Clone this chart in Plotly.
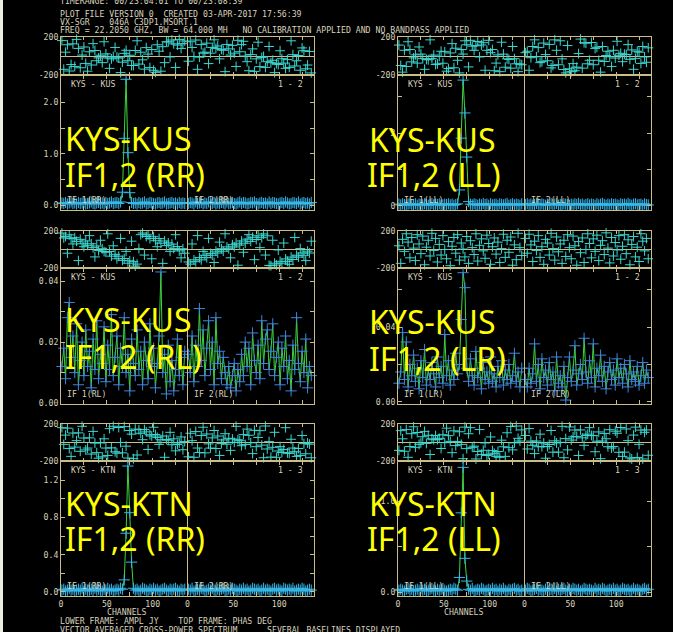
import numpy as np
import plotly.graph_objects as go

W, H = 673, 632

# ---------------------------------------------------------------- data
# Phases (deg) and amplitudes (Jy), every second channel, IF1 and IF2.
PH_KUS_RR_IF1 = [162, -140, 40, 118, -158, -90, 128, -110, 175, 80, -124, 10, 95, -78, -160, 44, -95, 130, 58, -50,
                 -20, 8, -70, 150, 22, -20, -130, -30, -5, 90, -12, -22, -175, -65, 28, 60, -50, 8, -100, -100,
                 58, 160, -85, 40, -40, -138, 88, 20, -122, 68, -150, -172, 118, 50, -160, 98, -70, 150, 148, -10,
                 168, 128, -120, 115, 175, 80, 130, 158]
PH_KUS_RR_IF2 = [-55, 150, 90, -5, 168, -140, -12, 120, 30, 40, 135, -80, 30, 90, 170, 80, 105, -30, 70, 60,
                 -165, 122, 75, 10, 112, 30, -110, 165, 45, 120, 155, 0, -60, -155, 15, 75, -162, -30, 145, -112,
                 -15, -5, -120, -60, 100, -70, -45, -175, -80, -90, 55, -28, -75, -130, -38, -120, 160, 14, -105, -50,
                 5, -150, 85, 56, -135, -95, 48, -178]
PH_KUS_LL_IF1 = [115, -100, -170, 60, -110, 150, 68, -62, -20, 12, -75, 95, 20, -28, -140, -36, -40, 170, -28, 10,
                 -90, -84, -4, 50, -76, 45, -160, -132, 32, 130, -124, 82, -45, -178, 68, 20, 160, 118, -115, 165,
                 104, 60, 108, 152, -10, 116, 140, -150, 60, 165, 35, 68, -155, -75, 12, -165, 145, 20, -118, -30,
                 -36, -128, 100, -28, -82, -165, -84, -92]
PH_KUS_LL_IF2 = [35, 50, -150, -18, 100, 170, -8, 88, -70, -60, 136, 15, -50, 122, -125, -100, 170, 60, -92, 160,
                 -30, -142, -178, 110, -135, -165, -80, -155, -118, 25, 178, -128, 140, 135, -82, -45, 142, -92, 80, 92,
                 -45, -170, 100, -58, 5, 50, -8, -110, 60, -22, 155, 8, 28, -60, 18, 15, 120, -35, 64, -140,
                 -25, 50, 40, -78, 100, -10, -66, 86]
PH_KUS_RL_IF1 = [178, 125, 140, -40, 158, 118, 60, 128, 88, -120, 110, 62, 30, 92, 45, 150, 62, 20, -80, 38,
                 -12, 100, 8, -22, -30, 170, -22, -72, 40, -52, -100, -72, 120, -118, -98, -20, -148, -122, 90, -132,
                 -180, -158, 10, 160, 178, -60, 140, 158, 118, -100, 138, 95, 30, 118, 68, -150, 92, 42, 72, -20,
                 58, 12, 160, 32, -15, -90, 8, -40]
PH_KUS_RL_IF2 = [-135, -158, 60, -112, -132, 150, -88, -112, -20, -62, -88, 120, -42, -62, -140, -18, -38, 80, 8, -18,
                 170, 28, 8, -90, 52, 28, 68, -170, 48, 92, -30, 68, 112, 160, 88, 132, -110, 108, 148, 20,
                 128, 168, -60, 148, -172, -175, 100, -148, -168, -5, -128, -148, 70, -102, -128, -160, -82, -108, 130, -62,
                 -82, 10, -38, -62, -120, -18, -38, 90]
PH_KUS_LR_IF1 = [40, -150, 110, -20, 170, 80, -90, 130, 15, -120, 160, 60, -45, 145, -165, 25, 100, -70, 175, -10,
                 120, -135, 55, -60, 150, 0, -100, 85, -175, 35, 130, -40, 160, -115, 70, 5, -80, 140, -150, 95,
                 20, -55, 170, -125, 45, 115, -15, -95, 155, 65, -160, 30, 125, -50, 80, -140, 10, 165, -85, 100,
                 -30, 135, -170, 50, -110, 175, 20, -65]
PH_KUS_LR_IF2 = [120, -40, 165, 50, -130, 90, -10, 150, -85, 30, -160, 110, 70, -60, 175, 10, -115, 135, -25, 60,
                 -150, 100, -75, 160, 20, -100, 145, 40, -170, 85, -35, 125, -140, 0, 170, 65, -90, 115, -20, 155,
                 -120, 45, 95, -55, 180, 15, -145, 130, -70, 75, -5, 150, -105, 35, 160, -45, 105, -165, 55, 140,
                 -80, 25, -130, 170, 90, -15, 120, -100]
PH_KTN_RR_IF1 = [160, -20, 80, 155, -65, -150, 102, -50, 20, 104, -95, 175, 48, -80, -60, 50, -125, 120, -6, -110,
                 -170, -4, -155, 40, -60, -140, 150, -58, 175, -100, -115, 162, 0, -112, 172, -40, -168, 130, 90, -175,
                 145, -135, 138, 100, 30, 140, 115, -75, 84, 70, 165, 86, 55, -20, 30, 70, -160, 32, 25, 110,
                 -24, 40, -90, -22, -5, 60, -78, 10]
PH_KTN_RR_IF2 = [-155, 100, 20, -160, 118, -60, -108, 75, 165, -112, 92, -15, -60, 50, 130, -65, 70, -140, -12, 28,
                 95, -18, 45, -85, 38, 2, 175, 30, 20, -35, 85, -22, 145, 78, -3, -120, 132, -45, 55, 128,
                 -28, -165, 178, -70, 10, -158, -52, 110, -160, -92, -45, -108, -75, 160, -112, -118, 35, -60, -100, -150,
                 -65, -140, 75, -12, -122, -5, -18, -165]
PH_KTN_LL_IF1 = [-85, 128, 40, -95, 140, -160, -44, 95, 170, -52, 108, -20, -2, 62, 120, -10, 78, -130, 40, 30,
                 75, 32, 45, -65, 84, -2, 155, 74, 12, -110, 126, -34, 10, 116, -20, -175, 166, -66, 95, 160,
                 -52, -40, -178, -98, 140, -130, -84, -5, -140, -128, 60, -88, -116, -150, -98, -160, 25, -46, -150, 105,
                 -56, 172, -80, -4, 178, 45, 16, 136]
PH_KTN_LL_IF2 = [75, -70, 150, 15, -30, -120, 16, -46, 90, -45, -6, -170, -44, -22, 130, -105, 18, -5, -104, 2,
                 175, -165, 42, -80, 168, 26, 60, 135, 66, -140, 136, 50, -30, 75, 90, 160, 76, 74, -100, 14,
                 114, -175, 16, 98, 40, -46, 138, -60, -44, 122, 100, -106, 162, -150, -104, 146, 20, -166, -178, 80,
                 166, -162, -20, 134, -178, 110, 136, -138]

AMP_KUS_RR_IF1 = [0.04, 0.03, 0.05, 0.02, 0.04, 0.06, 0.03, 0.04, 0.02, 0.05, 0.03, 0.04, 0.05, 0.02, 0.03, 0.04,
                  0.06, 0.03, 0.02, 0.04, 0.05, 0.03, 0.04, 0.02, 0.05, 0.03, 0.04, 0.06, 0.03, 0.04, 0.05, 0.03,
                  0.06, 0.25, 1.30, 2.45, 1.02, 0.24, 0.05, 0.03, 0.04, 0.02, 0.05, 0.03, 0.04, 0.06, 0.02, 0.03,
                  0.05, 0.04, 0.03, 0.02, 0.04, 0.05, 0.03, 0.04, 0.06, 0.02, 0.03, 0.04, 0.05, 0.03, 0.04, 0.02,
                  0.05, 0.03, 0.04, 0.03]
AMP_KUS_RR_IF2 = [0.03, 0.05, 0.04, 0.02, 0.06, 0.03, 0.04, 0.05, 0.02, 0.04, 0.03, 0.06, 0.04, 0.03, 0.05, 0.02,
                  0.04, 0.03, 0.05, 0.04, 0.02, 0.06, 0.03, 0.04, 0.05, 0.03, 0.02, 0.04, 0.06, 0.03, 0.05, 0.04,
                  0.02, 0.03, 0.05, 0.04, 0.06, 0.03, 0.02, 0.04, 0.05, 0.03, 0.04, 0.02, 0.06, 0.03, 0.05, 0.04,
                  0.03, 0.02, 0.04, 0.05, 0.03, 0.06, 0.04, 0.02, 0.03, 0.05, 0.04, 0.03, 0.06, 0.02, 0.04, 0.05,
                  0.03, 0.04, 0.02, 0.05]
AMP_KUS_LL_IF1 = [0.05, 0.03, 0.06, 0.04, 0.02, 0.05, 0.07, 0.03, 0.04, 0.06, 0.02, 0.05, 0.04, 0.03, 0.06, 0.05,
                  0.02, 0.04, 0.07, 0.03, 0.05, 0.04, 0.06, 0.02, 0.03, 0.05, 0.04, 0.06, 0.03, 0.05, 0.02, 0.04,
                  0.06, 0.44, 1.86, 3.45, 2.55, 1.34, 0.12, 0.05, 0.03, 0.06, 0.04, 0.02, 0.05, 0.03, 0.07, 0.04,
                  0.05, 0.02, 0.06, 0.03, 0.04, 0.05, 0.02, 0.06, 0.04, 0.03, 0.05, 0.07, 0.02, 0.04, 0.06, 0.03,
                  0.05, 0.04, 0.02, 0.06]
AMP_KUS_LL_IF2 = [0.04, 0.06, 0.03, 0.05, 0.02, 0.04, 0.07, 0.05, 0.03, 0.06, 0.04, 0.02, 0.05, 0.03, 0.06, 0.04,
                  0.05, 0.07, 0.02, 0.04, 0.03, 0.06, 0.05, 0.04, 0.02, 0.05, 0.03, 0.06, 0.04, 0.07, 0.03, 0.05,
                  0.02, 0.04, 0.06, 0.03, 0.05, 0.04, 0.02, 0.06, 0.03, 0.05, 0.07, 0.04, 0.02, 0.05, 0.03, 0.06,
                  0.04, 0.05, 0.03, 0.02, 0.06, 0.04, 0.05, 0.03, 0.07, 0.04, 0.02, 0.05, 0.06, 0.03, 0.04, 0.05,
                  0.02, 0.06, 0.04, 0.03]
AMP_KUS_RL_IF1 = [0.012, 0.018, 0.008, 0.028, 0.033, 0.015, 0.022, 0.010, 0.026, 0.006,
                  0.014, 0.020, 0.009, 0.024, 0.012, 0.017, 0.005, 0.021, 0.011, 0.027,
                  0.008, 0.016, 0.013, 0.025, 0.007, 0.019, 0.011, 0.029, 0.009, 0.015,
                  0.022, 0.006, 0.018, 0.012, 0.028, 0.010, 0.016, 0.004, 0.021, 0.013,
                  0.009, 0.024, 0.011, 0.017, 0.006, 0.020, 0.014, 0.008, 0.026, 0.012,
                  0.018, 0.005, 0.013, 0.022, 0.043, 0.010, 0.016, 0.003, 0.019, 0.007,
                  0.014, 0.004, 0.011, 0.021, 0.009, 0.015, 0.006, 0.017]
AMP_KUS_RL_IF2 = [0.016, 0.010, 0.022, 0.007, 0.019, 0.012, 0.031, 0.014, 0.024, 0.009,
                  0.018, 0.027, 0.011, 0.020, 0.006, 0.028, 0.013, 0.017, 0.008, 0.015,
                  0.010, 0.006, 0.012, 0.005, 0.009, 0.013, 0.004, 0.011, 0.007, 0.016,
                  0.009, 0.020, 0.012, 0.018, 0.006, 0.023, 0.014, 0.010, 0.019, 0.008,
                  0.027, 0.013, 0.021, 0.024, 0.011, 0.017, 0.026, 0.009, 0.015, 0.020,
                  0.006, 0.018, 0.012, 0.022, 0.008, 0.014, 0.004, 0.019, 0.011, 0.028,
                  0.013, 0.007, 0.017, 0.010, 0.021, 0.005, 0.012, 0.009]
AMP_KUS_LR_IF1 = [0.010, 0.016, 0.037, 0.012, 0.032, 0.008, 0.020, 0.014, 0.025, 0.011,
                  0.018, 0.007, 0.022, 0.013, 0.028, 0.009, 0.017, 0.012, 0.021, 0.015,
                  0.008, 0.024, 0.013, 0.019, 0.010, 0.036, 0.014, 0.022, 0.009, 0.017,
                  0.012, 0.026, 0.015, 0.020, 0.044, 0.069, 0.061, 0.018, 0.011, 0.023,
                  0.014, 0.009, 0.027, 0.013, 0.018, 0.007, 0.021, 0.012, 0.016, 0.010,
                  0.024, 0.011, 0.015, 0.008, 0.019, 0.013, 0.022, 0.009, 0.017, 0.012,
                  0.020, 0.010, 0.014, 0.026, 0.011, 0.016, 0.008, 0.018]
AMP_KUS_LR_IF2 = [0.012, 0.008, 0.018, 0.010, 0.015, 0.031, 0.011, 0.020, 0.007, 0.023,
                  0.013, 0.017, 0.009, 0.021, 0.012, 0.016, 0.006, 0.024, 0.010, 0.014,
                  0.008, 0.019, 0.001, 0.013, 0.024, 0.011, 0.017, 0.030, 0.009, 0.015,
                  0.020, 0.012, 0.034, 0.016, 0.010, 0.022, 0.013, 0.031, 0.008, 0.018,
                  0.014, 0.025, 0.011, 0.019, 0.007, 0.016, 0.021, 0.012, 0.017, 0.009,
                  0.023, 0.013, 0.018, 0.010, 0.020, 0.015, 0.008, 0.022, 0.012, 0.016,
                  0.011, 0.019, 0.009, 0.014, 0.021, 0.010, 0.017, 0.013]
AMP_KTN_RR_IF1 = [0.02, 0.03, 0.01, 0.02, 0.04, 0.02, 0.03, 0.01, 0.02, 0.03, 0.02, 0.04, 0.01, 0.03, 0.02, 0.02,
                  0.03, 0.01, 0.04, 0.02, 0.03, 0.02, 0.01, 0.03, 0.02, 0.04, 0.02, 0.03, 0.01, 0.02, 0.03, 0.02,
                  0.04, 0.03, 0.13, 0.63, 1.35, 0.85, 0.32, 0.04, 0.02, 0.03, 0.01, 0.02, 0.04, 0.03, 0.02, 0.01,
                  0.03, 0.02, 0.04, 0.02, 0.03, 0.01, 0.02, 0.03, 0.04, 0.02, 0.01, 0.03, 0.02, 0.03, 0.04, 0.02,
                  0.01, 0.03, 0.02, 0.03]
AMP_KTN_RR_IF2 = [0.03, 0.02, 0.04, 0.01, 0.02, 0.03, 0.02, 0.04, 0.03, 0.01, 0.02, 0.03, 0.02, 0.04, 0.02, 0.01,
                  0.03, 0.02, 0.03, 0.04, 0.01, 0.02, 0.03, 0.02, 0.04, 0.03, 0.02, 0.01, 0.03, 0.02, 0.04, 0.02,
                  0.03, 0.01, 0.02, 0.04, 0.03, 0.02, 0.03, 0.01, 0.02, 0.04, 0.02, 0.03, 0.02, 0.01, 0.03, 0.04,
                  0.02, 0.03, 0.02, 0.01, 0.04, 0.03, 0.02, 0.03, 0.02, 0.04, 0.01, 0.02, 0.03, 0.02, 0.04, 0.03,
                  0.01, 0.02, 0.03, 0.02]
AMP_KTN_LL_IF1 = [0.02, 0.03, 0.02, 0.01, 0.03, 0.04, 0.02, 0.03, 0.01, 0.02, 0.03, 0.02, 0.04, 0.02, 0.03, 0.01,
                  0.02, 0.03, 0.04, 0.02, 0.01, 0.03, 0.02, 0.03, 0.04, 0.02, 0.01, 0.02, 0.03, 0.02, 0.04, 0.03,
                  0.02, 0.16, 0.87, 1.37, 0.37, 0.12, 0.03, 0.02, 0.04, 0.01, 0.02, 0.03, 0.02, 0.04, 0.03, 0.01,
                  0.02, 0.03, 0.02, 0.04, 0.02, 0.03, 0.01, 0.03, 0.02, 0.04, 0.02, 0.01, 0.03, 0.02, 0.03, 0.04,
                  0.02, 0.03, 0.01, 0.02]
AMP_KTN_LL_IF2 = [0.02, 0.04, 0.03, 0.01, 0.02, 0.03, 0.04, 0.02, 0.03, 0.02, 0.01, 0.03, 0.04, 0.02, 0.03, 0.02,
                  0.04, 0.01, 0.03, 0.02, 0.03, 0.04, 0.02, 0.01, 0.03, 0.02, 0.04, 0.03, 0.02, 0.03, 0.01, 0.02,
                  0.04, 0.03, 0.02, 0.03, 0.02, 0.01, 0.04, 0.02, 0.03, 0.02, 0.04, 0.03, 0.01, 0.02, 0.03, 0.02,
                  0.04, 0.02, 0.03, 0.01, 0.02, 0.04, 0.03, 0.02, 0.03, 0.01, 0.02, 0.04, 0.02, 0.03, 0.02, 0.01,
                  0.03, 0.04, 0.02, 0.03]

HEADER = ["TIMERANGE: 00/23:04:01 TO 00/23:08:39",
          "PLOT FILE VERSION 0  CREATED 03-APR-2017 17:56:39",
          "VX-SGR    046A C3DP1.MSORT.1",
          "FREQ = 22.2050 GHZ, BW = 64.000 MH   NO CALIBRATION APPLIED AND NO BANDPASS APPLIED"]
FOOTER = ["LOWER FRAME: AMPL JY    TOP FRAME: PHAS DEG",
          "VECTOR AVERAGED CROSS-POWER SPECTRUM      SEVERAL BASELINES DISPLAYED"]

PANELS = [
    dict(base="KYS - KUS", pair="1 - 2", pol="RR", big=("KYS-KUS", "IF1,2 (RR)"),
         ph=(PH_KUS_RR_IF1, PH_KUS_RR_IF2), amp=(AMP_KUS_RR_IF1, AMP_KUS_RR_IF2),
         yr=[-0.097, 2.534], tv=[0, 0.5, 1, 1.5, 2], tt=["0.0", "", "1.0", "", "2.0"]),
    dict(base="KYS - KUS", pair="1 - 2", pol="LL", big=("KYS-KUS", "IF1,2 (LL)"),
         ph=(PH_KUS_LL_IF1, PH_KUS_LL_IF2), amp=(AMP_KUS_LL_IF1, AMP_KUS_LL_IF2),
         yr=[-0.11, 3.59], tv=[0, 1, 2, 3], tt=["0", "", "2", ""]),
    dict(base="KYS - KUS", pair="1 - 2", pol="RL", big=("KYS-KUS", "IF1,2 (RL)"),
         ph=(PH_KUS_RL_IF1, PH_KUS_RL_IF2), amp=(AMP_KUS_RL_IF1, AMP_KUS_RL_IF2),
         yr=[-0.0003, 0.0443], tv=[0, 0.01, 0.02, 0.03, 0.04], tt=["0.00", "", "0.02", "", "0.04"]),
    dict(base="KYS - KUS", pair="1 - 2", pol="LR", big=("KYS-KUS", "IF1,2 (LR)"),
         ph=(PH_KUS_LR_IF1, PH_KUS_LR_IF2), amp=(AMP_KUS_LR_IF1, AMP_KUS_LR_IF2),
         yr=[-0.0011, 0.0715], tv=[0, 0.02, 0.04, 0.06], tt=["0.00", "", "0.04", ""]),
    dict(base="KYS - KTN", pair="1 - 3", pol="RR", big=("KYS-KTN", "IF1,2 (RR)"),
         ph=(PH_KTN_RR_IF1, PH_KTN_RR_IF2), amp=(AMP_KTN_RR_IF1, AMP_KTN_RR_IF2),
         yr=[-0.043, 1.404], tv=[0, 0.2, 0.4, 0.6, 0.8, 1.0, 1.2],
         tt=["0.0", "", "0.4", "", "0.8", "", "1.2"]),
    dict(base="KYS - KTN", pair="1 - 3", pol="LL", big=("KYS-KTN", "IF1,2 (LL)"),
         ph=(PH_KTN_LL_IF1, PH_KTN_LL_IF2), amp=(AMP_KTN_LL_IF1, AMP_KTN_LL_IF2),
         yr=[-0.044, 1.44], tv=[0, 0.5, 1.0], tt=["0.0", "", "1.0"]),
]

# ---------------------------------------------------------------- style
BG = "#000000"
FRAME = "#c9bd8a"
TXT = "#d8d2bc"
PHASE_C = "#3cd8d0"
AMP_BASE_C = "#38b8ea"
AMP_NOISE_C = "#3f86e0"
GREEN = "#3ed43e"
YELLOW = "#ffff00"
MONO = "DejaVu Sans Mono"
SANS = "Noto Sans"
FS = 8.2

IF_SPAN = 138          # channel width of one IF on the shared axis
NCHAN = 136
COLS = [(61, 314), (398, 651)]
ROWS = [(37, 75, 210), (231, 268, 404), (424, 461, 596)]   # phase top, split, amp bottom
BIG_POS = [((68, 127), (68, 163)), ((372, 128), (370, 164)),
           ((68, 308), (68, 345)), ((372, 310), (372, 347)),
           ((68, 492), (68, 527)), ((372, 492), (370, 527))]


def px(x):
    return x / W


def py(y):
    return 1 - y / H


def chans(n):
    return (np.arange(n) + 0.5) * NCHAN / n


fig = go.Figure()
layout = dict(width=W, height=H, margin=dict(l=0, r=0, t=0, b=0, autoexpand=False),
              paper_bgcolor=BG, plot_bgcolor=BG, showlegend=False)
annotations, shapes = [], []


def text(x, y, s, size=FS, color=TXT, family=MONO, xanchor="left"):
    annotations.append(dict(x=px(x), y=py(y), xref="paper", yref="paper", text=s, showarrow=False,
                            xanchor=xanchor, yanchor="middle", borderpad=0, borderwidth=0,
                            font=dict(family=family, size=size, color=color)))


x_minor = [0, 25, 50, 75, 100, 125]
x_tv = x_minor + [IF_SPAN + v for v in x_minor]
x_lab = ["0", "", "50", "", "100", ""] * 2

for k, p in enumerate(PANELS):
    col, row = k % 2, k // 2
    x0, x1 = COLS[col]
    pt, pm, pb = ROWS[row]
    ip, ia = 2 * k + 1, 2 * k + 2
    bottom = row == 2

    axis_common = dict(showline=True, linecolor=FRAME, linewidth=1, mirror="ticks", showgrid=False,
                       ticks="inside", ticklen=4, tickcolor=FRAME, tickwidth=1,
                       tickfont=dict(family=MONO, size=FS, color=TXT), fixedrange=True)
    layout[f"xaxis{ip}"] = dict(axis_common, domain=[px(x0), px(x1)], range=[0, 2 * IF_SPAN],
                                anchor=f"y{ip}", tickmode="array", tickvals=x_tv,
                                ticktext=[""] * len(x_tv), zeroline=False, ticklen=3)
    layout[f"yaxis{ip}"] = dict(axis_common, domain=[py(pm), py(pt)], range=[-200, 200],
                                anchor=f"x{ip}", tickmode="array", tickvals=[-200, 200],
                                ticktext=["-200", "200"], ticks="", zeroline=True,
                                zerolinecolor=FRAME, zerolinewidth=1)
    layout[f"xaxis{ia}"] = dict(axis_common, domain=[px(x0), px(x1)], range=[0, 2 * IF_SPAN],
                                anchor=f"y{ia}", tickmode="array", tickvals=x_tv,
                                ticktext=x_lab if bottom else [""] * len(x_tv), zeroline=False)
    layout[f"yaxis{ia}"] = dict(axis_common, domain=[py(pb), py(pm)], range=p["yr"],
                                anchor=f"x{ia}", tickmode="array", tickvals=p["tv"],
                                ticktext=p["tt"], zeroline=False)

    # divider between the two IFs
    shapes.append(dict(type="line", xref=f"x{ia}", yref="paper", x0=IF_SPAN, x1=IF_SPAN,
                       y0=py(pb), y1=py(pt), line=dict(color=FRAME, width=1)))

    # phase crosses
    phx, phy = [], []
    for j, arr in enumerate(p["ph"]):
        phx += list(chans(len(arr)) + j * IF_SPAN)
        phy += list(arr)
    fig.add_trace(go.Scatter(x=phx, y=phy, mode="markers", xaxis=f"x{ip}", yaxis=f"y{ip}",
                             cliponaxis=False, hoverinfo="skip",
                             marker=dict(symbol="cross-thin", size=7,
                                         line=dict(color=PHASE_C, width=1))))

    # amplitude spectra
    cross_c = AMP_NOISE_C if p["pol"] in ("RL", "LR") else AMP_BASE_C
    amx, amy = [], []
    for j, arr in enumerate(p["amp"]):
        cx = list(chans(len(arr)) + j * IF_SPAN)
        fig.add_trace(go.Scatter(x=cx, y=arr, mode="lines", xaxis=f"x{ia}", yaxis=f"y{ia}",
                                 cliponaxis=False, hoverinfo="skip",
                                 line=dict(color=GREEN, width=1)))
        amx += cx
        amy += list(arr)
    fig.add_trace(go.Scatter(x=amx, y=amy, mode="markers", xaxis=f"x{ia}", yaxis=f"y{ia}",
                             cliponaxis=False, hoverinfo="skip",
                             marker=dict(symbol="cross-thin", size=8,
                                         line=dict(color=cross_c, width=1))))

    # frame labels
    text(x0 + 10, pm + 9, p["base"])
    text(x1 - 11, pm + 9, p["pair"], xanchor="right")
    text(x0 + 6, pb - 10, f"IF 1({p['pol']})")
    text(x0 + 133, pb - 10, f"IF 2({p['pol']})")

    # large yellow captions
    (ax1, ay1), (ax2, ay2) = BIG_POS[k]
    text(ax1 - 3, ay1 + 11, p["big"][0], size=32, color=YELLOW, family=SANS)
    text(ax2 - 3, ay2 + 11, p["big"][1], size=32, color=YELLOW, family=SANS)

    if bottom:
        text(x0 + 66, 612, "CHANNELS", xanchor="center")

for s, y in zip(HEADER, [1, 14, 22, 30]):
    text(60, y, s)
for s, y in zip(FOOTER, [621, 630]):
    text(60, y, s)

# light strip along the left edge
shapes.append(dict(type="rect", xref="paper", yref="paper", x0=0, x1=px(3), y0=0, y1=1,
                   fillcolor="#eeeede", line=dict(width=0), layer="above"))

layout["annotations"] = annotations
layout["shapes"] = shapes
fig.update_layout(**layout)
fig.write_html("out.html")
